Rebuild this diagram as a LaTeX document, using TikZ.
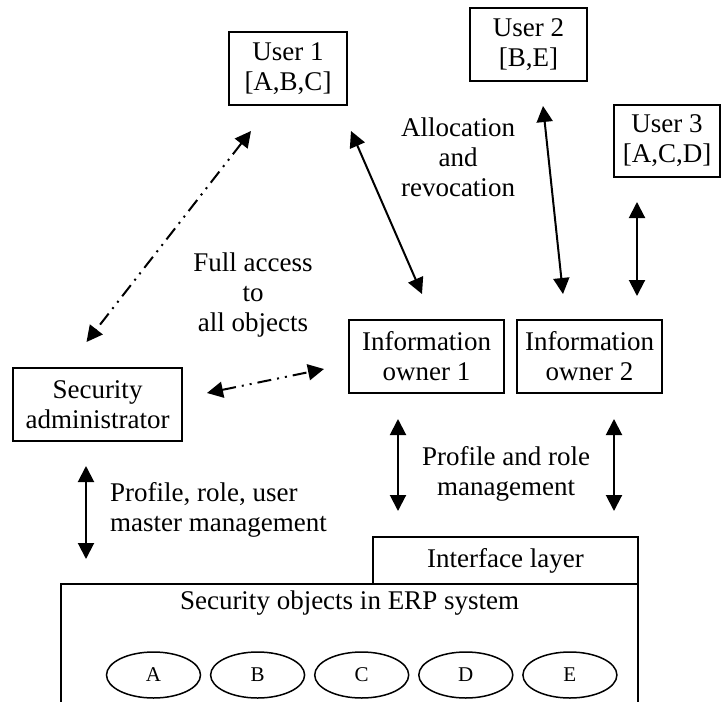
\documentclass[tikz,border=0pt]{standalone}
\usepackage{fontspec}
\setmainfont{Liberation Serif}
\usetikzlibrary{shapes.geometric, arrows.meta, positioning, calc}
\newcommand{\diagfont}{\fontsize{27}{30}\selectfont}
\newcommand{\objfont}{\fontsize{21}{23}\selectfont}
\tikzset{
  rolebox/.style={
    rectangle, draw, line width=2pt, inner sep=0pt,
    minimum height=73pt, align=center, font=\diagfont
  },
  objnode/.style={
    ellipse, draw, line width=1.5pt, inner sep=0pt,
    minimum width=94pt, minimum height=46pt, font=\objfont
  },
  textlabel/.style={
    align=center, font=\diagfont, inner sep=0pt
  },
  biarrow/.style={
    {Triangle[length=16pt, width=16pt]}-{Triangle[length=16pt, width=16pt]},
    line width=2pt
  },
  dotarrow/.style={
    biarrow, dash pattern=on 14pt off 6pt on 2pt off 6pt on 2pt off 6pt
  }
}

\begin{document}
\begin{tikzpicture}[x=1pt, y=-1pt]
  \clip (0,0) rectangle (722,701);

  % ── Users ──────────────────────────────────────────────
  \node[rolebox, minimum width=118pt] (user1) at (288,68.5)
    {User 1\\{}[A,B,C]};
  \node[rolebox, minimum width=117pt] (user2) at (528.5,44.5)
    {User 2\\{}[B,E]};
  \node[rolebox, minimum width=106pt, minimum height=72pt] (user3) at (667,141)
    {User 3\\{}[A,C,D]};

  % ── Owners and administrator ───────────────────────────
  \node[rolebox, minimum width=155pt] (owner1) at (426.5,356.5)
    {Information\\owner 1};
  \node[rolebox, minimum width=145pt] (owner2) at (589.5,356.5)
    {Information\\owner 2};
  \node[rolebox, minimum width=169pt] (secadm) at (97.5,404.5)
    {Security\\administrator};

  % ── ERP system ─────────────────────────────────────────
  \node[draw, line width=2pt, inner sep=0pt,
        minimum width=577pt, minimum height=160pt] (erp) at (349.5,664) {};
  \node[textlabel, below=8pt of erp.north] (erptitle)
    {Security objects in ERP system};
  \node[rolebox, minimum width=265pt, minimum height=47pt] (iface) at (505.5,560.5)
    {Interface layer};

  % ── Security objects (row) ─────────────────────────────
  \node[objnode] (objA) at (153.5,675) {A};
  \foreach \prev/\cur in {A/B, B/C, C/D, D/E}{
    \node[objnode, right=8.6pt of obj\prev] (obj\cur) {\cur};
  }

  % ── Labels ─────────────────────────────────────────────
  \node[textlabel] (fullacc) at (253,295) {Full access\\to\\all objects};
  \node[textlabel] (alloc) at (458,157) {Allocation\\and\\revocation};
  \node[textlabel] (profrole) at (506,474) {Profile and role\\management};
  \node[textlabel, anchor=west, align=left] (profuser) at (110,510)
    {Profile, role, user\\master management};

  % ── Arrows: full access ────────────────────────────────
  \draw[dotarrow] ($(user1.south)+(-37,25)$) -- ($(secadm.north)+(-11,-25)$);
  \draw[dotarrow] ($(secadm.east)+(24,-11.5)$) -- ($(owner1.west)+(-24,12.5)$);

  % ── Arrows: allocation and revocation ─────────────────
  \draw[biarrow] ($(user1.south east)+(3,25)$) -- ($(owner1.north)+(-4.5,-25)$);
  \draw[biarrow] ($(user2.south)+(14.5,24)$) -- ($(owner2.north)+(-26.5,-25)$);
  \draw[biarrow] ($(user3.south)+(-30,24)$) -- ($(owner2.north)+(47.5,-23)$);

  % ── Arrows: management ────────────────────────────────
  \draw[biarrow] ($(secadm.south)+(-11.5,24)$)
    -- ($(secadm.south |- erp.north)+(-11.5,-24)$);
  \draw[biarrow] ($(owner1.south)+(-28.5,25)$)
    -- ($(owner1.south |- iface.north)+(-28.5,-25)$);
  \draw[biarrow] ($(owner2.south)+(24.5,25)$)
    -- ($(owner2.south |- iface.north)+(24.5,-25)$);

\end{tikzpicture}
\end{document}
